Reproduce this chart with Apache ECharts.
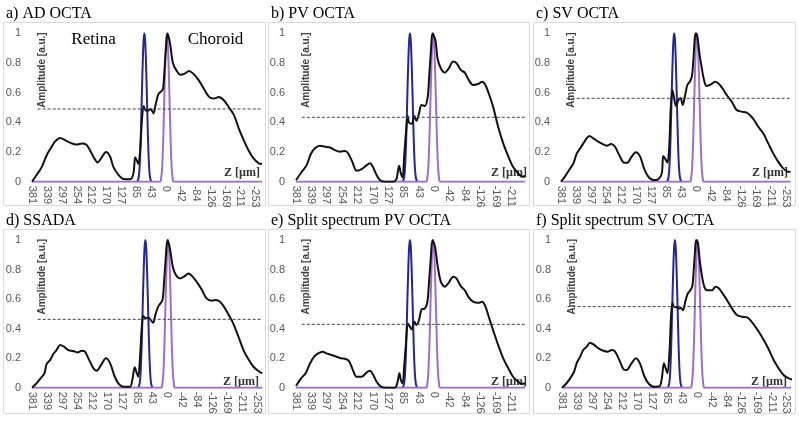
<!DOCTYPE html>
<html>
<head>
<meta charset="utf-8">
<script src="https://cdn.jsdelivr.net/npm/echarts@6/dist/echarts.min.js"></script>
<style>
html,body{margin:0;padding:0;background:#fff;}
#chart{width:799px;height:421px;}
</style>
</head>
<body>
<div id="chart"></div>
<script>
// ---------- data ----------
const ticksLong  = [381,339,297,254,212,170,127,85,43,0,-42,-84,-126,-169,-211,-253];
const ticksShort = [381,339,297,254,212,170,127,85,43,0,-42,-84,-126,-169,-211];

const titles = ['a) AD OCTA','b) PV OCTA','c) SV OCTA','d) SSADA','e) Split spectrum PV OCTA','f) Split spectrum SV OCTA'];
const thresholds = [0.49, 0.434, 0.562, 0.463, 0.429, 0.549];
const zMins = [-272, -250, -266, -267, -250, -266];

const zA = [381,368,353,339,325,316,301,287,273,254,240,227,216,204,195,183,171,159,150,135,121,102,93,88,83,79,74,69,64,58,50,44,36,30,22,10,6,1,-4,-11,-19,-29,-40,-54,-64,-76,-92,-106,-121,-135,-149,-163,-177,-192,-206,-220,-234,-248,-263,-272];
const ampA = [0,0.045,0.10,0.18,0.236,0.27,0.295,0.28,0.263,0.25,0.258,0.25,0.21,0.157,0.13,0.164,0.20,0.168,0.10,0.045,0.018,0.016,0.056,0.164,0.14,0.12,0.21,0.41,0.51,0.48,0.48,0.49,0.46,0.52,0.59,0.62,0.71,0.89,1.0,0.93,0.80,0.75,0.72,0.73,0.746,0.73,0.685,0.63,0.573,0.56,0.57,0.55,0.505,0.45,0.36,0.28,0.21,0.157,0.124,0.12];

const zB = [381,365,352,340,329,315,301,287,274,260,246,237,226,214,200,186,177,168,159,150,136,113,104,97,92,87,83,78,73,70,62,55,49,42,35,26,18,14,9,5,-3,-9,-18,-29,-40,-52,-61,-73,-84,-95,-107,-121,-132,-141,-150,-162,-176,-190,-204,-217,-231,-242,-250];
const ampB = [0.01,0.067,0.11,0.187,0.225,0.243,0.236,0.23,0.213,0.202,0.207,0.19,0.135,0.074,0.085,0.112,0.124,0.094,0.045,0.011,0,0,0.02,0.108,0.056,0.03,0.17,0.33,0.443,0.40,0.39,0.443,0.41,0.46,0.517,0.51,0.573,0.71,0.89,1.0,0.955,0.83,0.764,0.735,0.764,0.81,0.80,0.753,0.735,0.685,0.652,0.658,0.674,0.652,0.596,0.506,0.37,0.258,0.17,0.10,0.056,0.034,0.038];

const zC = [381,370,358,346,337,327,318,309,301,290,276,262,252,240,229,217,203,194,182,170,158,147,135,121,107,97,93,88,81,76,72,67,63,57,50,44,38,32,25,18,12,8,4,1,-4,-9,-15,-22,-29,-43,-53,-62,-74,-86,-100,-114,-128,-142,-151,-163,-175,-189,-203,-217,-231,-245,-259,-266];
const ampC = [0,0.034,0.079,0.124,0.187,0.225,0.258,0.292,0.308,0.292,0.27,0.252,0.243,0.254,0.236,0.18,0.128,0.128,0.169,0.198,0.169,0.09,0.034,0.011,0.016,0.056,0.173,0.157,0.128,0.236,0.483,0.618,0.573,0.51,0.55,0.562,0.517,0.573,0.652,0.674,0.712,0.82,0.966,1.0,0.966,0.865,0.775,0.685,0.645,0.658,0.674,0.663,0.629,0.584,0.54,0.483,0.472,0.465,0.449,0.416,0.37,0.326,0.258,0.191,0.135,0.09,0.067,0.067];

const zD = [381,368,357,346,340,330,321,312,302,291,279,265,253,241,232,220,208,199,187,173,161,150,138,124,105,98,92,86,82,77,72,68,61,54,47,40,34,26,14,10,5,0,-7,-15,-24,-36,-47,-59,-71,-84,-96,-110,-125,-137,-148,-159,-171,-185,-200,-214,-228,-242,-256,-267];
const ampD = [0,0.03,0.063,0.097,0.16,0.187,0.228,0.255,0.289,0.278,0.255,0.248,0.239,0.25,0.244,0.187,0.131,0.115,0.153,0.199,0.165,0.086,0.03,0.007,0.007,0.063,0.138,0.097,0.074,0.21,0.413,0.485,0.47,0.476,0.458,0.44,0.492,0.549,0.594,0.695,0.865,1.0,0.944,0.82,0.763,0.74,0.752,0.774,0.752,0.711,0.666,0.605,0.589,0.594,0.582,0.549,0.499,0.436,0.345,0.255,0.192,0.142,0.113,0.097];

const zE = [381,367,354,342,331,320,308,297,283,269,257,244,235,226,214,200,186,177,168,159,147,131,108,102,96,92,87,83,78,73,69,62,55,49,42,35,26,19,15,10,5,-2,-9,-18,-29,-40,-52,-61,-73,-84,-95,-107,-121,-132,-141,-153,-165,-176,-190,-204,-217,-231,-242,-250];
const ampE = [0.011,0.063,0.10,0.165,0.21,0.232,0.244,0.232,0.221,0.21,0.199,0.194,0.18,0.131,0.074,0.074,0.104,0.115,0.086,0.041,0.007,0,0,0.03,0.097,0.052,0.03,0.142,0.30,0.435,0.42,0.395,0.447,0.424,0.458,0.53,0.535,0.58,0.695,0.865,1.0,0.955,0.83,0.718,0.684,0.711,0.752,0.74,0.688,0.66,0.612,0.582,0.575,0.582,0.549,0.458,0.368,0.289,0.199,0.131,0.074,0.041,0.025,0.03];

const zF = [381,370,358,347,339,330,321,311,302,292,278,264,253,240,231,219,207,198,186,172,160,149,137,122,105,99,93,88,83,77,73,69,64,58,52,45,39,33,26,19,13,9,5,2,-3,-8,-14,-21,-28,-43,-53,-62,-74,-85,-99,-113,-128,-142,-151,-162,-175,-189,-203,-217,-231,-245,-260,-269];
const ampF = [0,0.025,0.063,0.108,0.169,0.21,0.255,0.278,0.305,0.293,0.266,0.25,0.244,0.255,0.244,0.187,0.124,0.12,0.16,0.199,0.16,0.081,0.03,0.007,0.011,0.063,0.165,0.131,0.097,0.255,0.48,0.573,0.546,0.546,0.535,0.54,0.525,0.58,0.636,0.658,0.685,0.79,0.93,1.0,0.977,0.865,0.763,0.684,0.66,0.66,0.684,0.673,0.634,0.594,0.537,0.492,0.48,0.476,0.458,0.424,0.379,0.323,0.26,0.187,0.131,0.086,0.063,0.056];

// reference peaks (blue and purple)
const peakAmp    = [0,0.03,0.12,0.32,0.6,0.85,0.96,1,0.96,0.85,0.6,0.32,0.12,0.03,0];
const blueZ      = [82,78,75,72,69,66,64,62,60,58,55,52,49,46,42];
const purpleZ    = [18,14,11,8,5,2,0,-2,-4,-6,-9,-12,-15,-18,-22];
const blueZPV    = [87,83,80,77,74,71,69,67,65,63,60,57,54,51,47];
const purpleZPV  = [23,19,16,13,10,7,5,3,1,-1,-4,-7,-10,-13,-17];
const dashStartZ = 365;

// ---------- layout ----------
const curves = [[zA,ampA],[zB,ampB],[zC,ampC],[zD,ampD],[zE,ampE],[zF,ampF]];
const isPV = [false,true,false,false,true,false];
const layout = [
  {grid:{left:32, top:33.3, width:230, height:148.4}, box:[3,22,262,183], title:[6,14], zName:[260,173]},
  {grid:{left:296,top:33.3, width:229, height:148.4}, box:[268,22,261,183], title:[271,14], zName:[527,173]},
  {grid:{left:561,top:33.3, width:229.6,height:148.4}, box:[533,22,262,183], title:[536,14], zName:[788,173]},
  {grid:{left:32, top:240, width:230.3,height:147.7}, box:[3,229,262,184], title:[6,221], zName:[259,382]},
  {grid:{left:296,top:240, width:229, height:147.7}, box:[268,229,261,184], title:[271,221], zName:[527,382]},
  {grid:{left:562,top:240, width:229, height:147.7}, box:[533,229,262,184], title:[536,221], zName:[787,382]}
];

const zip = (xs, ys) => xs.map((x, i) => [x, ys[i]]);

const grids = [], xAxes = [], yAxes = [], series = [], graphics = [];
layout.forEach((L, i) => {
  grids.push(Object.assign({containLabel:false}, L.grid));
  xAxes.push({
    type:'value', gridIndex:i, inverse:true, min:zMins[i], max:381,
    axisLine:{show:false}, axisTick:{show:false}, splitLine:{show:false},
    axisLabel:{
      customValues: i === 1 || i === 4 ? ticksShort : ticksLong,
      rotate:-90, margin:4, fontSize:11, color:'#595959', fontFamily:'Liberation Sans'
    }
  });
  yAxes.push({
    type:'value', gridIndex:i, min:0, max:1, interval:0.2,
    axisLine:{show:false}, axisTick:{show:false}, splitLine:{show:false},
    axisLabel:{margin:11, fontSize:11, color:'#595959', fontFamily:'Liberation Sans'}
  });
  const bz = isPV[i] ? blueZPV : blueZ;
  const pz = isPV[i] ? purpleZPV : purpleZ;
  const purpleData = [[381,0]].concat(zip(pz, peakAmp), [[zMins[i],0]]);
  series.push({
    type:'line', xAxisIndex:i, yAxisIndex:i, data: zip(bz, peakAmp), smooth:0.4,
    showSymbol:false, lineStyle:{color:'#25259a', width:2}, z:2, silent:true
  });
  series.push({
    type:'line', xAxisIndex:i, yAxisIndex:i, data: purpleData, smooth:0.4,
    showSymbol:false, lineStyle:{color:'#9b6fcb', width:2}, z:3, silent:true
  });
  series.push({
    type:'line', xAxisIndex:i, yAxisIndex:i, data: zip(curves[i][0], curves[i][1]), smooth:0.3,
    showSymbol:false, lineStyle:{color:'#111111', width:2}, z:4, silent:true
  });
  series.push({
    type:'line', xAxisIndex:i, yAxisIndex:i,
    data: [[dashStartZ, thresholds[i]], [zMins[i], thresholds[i]]],
    showSymbol:false, lineStyle:{color:'#404040', width:1, type:[3,2]}, z:5, silent:true
  });

  graphics.push({
    type:'rect', shape:{x:L.box[0]+0.5, y:L.box[1]+0.5, width:L.box[2], height:L.box[3]},
    style:{fill:'none', stroke:'#d9d9d9', lineWidth:1}, z:-1
  });
  graphics.push({
    type:'text', x:L.title[0], y:L.title[1],
    style:{text:titles[i], font:'16px "Liberation Serif"', fill:'#000', verticalAlign:'middle', align:'left'}
  });
  graphics.push({
    type:'text', x:L.grid.left + 10, y:L.grid.top - 1, rotation:Math.PI/2,
    style:{text:'Amplitude [a.u.]', font:'bold 10px "Liberation Sans"', fill:'#404040', align:'right', verticalAlign:'middle'}
  });
  graphics.push({
    type:'text', x:L.zName[0], y:L.zName[1],
    style:{text:'Z [µm]', font:'bold 12px "Liberation Serif"', fill:'#333', align:'right', verticalAlign:'middle'}
  });
});

graphics.push({type:'text', x:93.5, y:40, style:{text:'Retina', font:'17px "Liberation Serif"', fill:'#000', align:'center', verticalAlign:'middle'}});
graphics.push({type:'text', x:215.5, y:40, style:{text:'Choroid', font:'17px "Liberation Serif"', fill:'#000', align:'center', verticalAlign:'middle'}});

const chart = echarts.init(document.getElementById('chart'), null, {renderer:'canvas'});
chart.setOption({
  animation:false,
  backgroundColor:'#fff',
  grid:grids, xAxis:xAxes, yAxis:yAxes, series:series, graphic:graphics
});
</script>
</body>
</html>
